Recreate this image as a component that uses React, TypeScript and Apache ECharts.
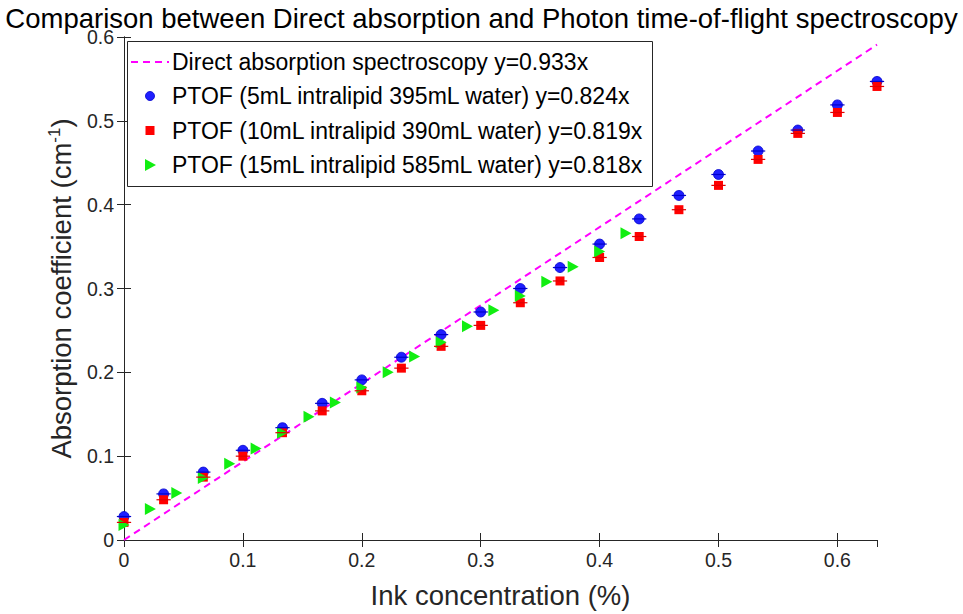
import React, { useEffect, useRef } from "react";
import * as echarts from "echarts";

const titleText = "Comparison between Direct absorption and Photon time-of-flight spectroscopy";
const seriesNames = [
  "Direct absorption spectroscopy y=0.933x",
  "PTOF (5mL intralipid 395mL water) y=0.824x",
  "PTOF (10mL intralipid 390mL water) y=0.819x",
  "PTOF (15mL intralipid 585mL water) y=0.818x",
];
const fitSlope = 0.933;
const fitX = [0, 0.6333];

const inkA = [0, 0.0333, 0.0667, 0.1, 0.1333, 0.1667, 0.2, 0.2333, 0.2667, 0.3, 0.3333, 0.3667, 0.4, 0.4333, 0.4667, 0.5, 0.5333, 0.5667, 0.6, 0.6333];
const mu5 = [0.028, 0.055, 0.081, 0.107, 0.134, 0.163, 0.191, 0.218, 0.245, 0.272, 0.300, 0.325, 0.353, 0.383, 0.411, 0.436, 0.464, 0.489, 0.519, 0.547];
const mu10 = [0.021, 0.048, 0.075, 0.100, 0.128, 0.154, 0.178, 0.205, 0.231, 0.256, 0.283, 0.309, 0.337, 0.362, 0.394, 0.423, 0.454, 0.485, 0.510, 0.541];
const inkB = [0, 0.0222, 0.0444, 0.0667, 0.0889, 0.1111, 0.1333, 0.1556, 0.1778, 0.2, 0.2222, 0.2444, 0.2667, 0.2889, 0.3111, 0.3333, 0.3556, 0.3778, 0.4, 0.4222];
const mu15 = [0.018, 0.037, 0.056, 0.074, 0.091, 0.109, 0.128, 0.147, 0.164, 0.182, 0.200, 0.219, 0.236, 0.255, 0.274, 0.291, 0.308, 0.326, 0.344, 0.366];
const xErr5 = [0.006, 0.006, 0.006, 0.006, 0.006, 0.006, 0.006, 0.006, 0.006, 0.006, 0.006, 0.006, 0.006, 0.006, 0.006, 0.006, 0.006, 0.006, 0.006, 0.006];
const xErr10 = [0.006, 0.006, 0.006, 0.006, 0.006, 0.006, 0.006, 0.006, 0.006, 0.006, 0.006, 0.006, 0.006, 0.006, 0.006, 0.006, 0.006, 0.006, 0.006, 0.006];

const yTicks = [0, 0.1, 0.2, 0.3, 0.4, 0.5, 0.6];
const xTicks = [0, 0.1, 0.2, 0.3, 0.4, 0.5, 0.6];

const axisColor = "#262626";
const font = "'Liberation Sans', Arial, Helvetica, sans-serif";
const colMagenta = "#ff00ff";
const colBlue = "#1f1fff";
const colRed = "#ff0000";
const colGreen = "#11ee11";

function errSeries(xs: number[], ys: number[], errs: number[], color: string) {
  return {
    type: "custom",
    silent: true,
    z: 5,
    data: xs.map((x, i) => [x, ys[i], x - errs[i], x + errs[i]]),
    encode: { x: [0, 2, 3], y: 1 },
    renderItem: (params: any, api: any) => {
      const y = api.value(1);
      const p1 = api.coord([api.value(2), y]);
      const p2 = api.coord([api.value(3), y]);
      return {
        type: "line",
        shape: { x1: p1[0], y1: p1[1], x2: p2[0], y2: p2[1] },
        style: { stroke: color, lineWidth: 1.2 },
      };
    },
  };
}

function legendGraphic() {
  const bx = 127.5, by = 41.5, bw = 525, bh = 145;
  const rows = [62, 96, 130.5, 165];
  const iconX = 150;
  const textX = 172;
  const els: any[] = [
    { type: "rect", shape: { x: bx, y: by, width: bw, height: bh }, style: { fill: "#fff", stroke: axisColor, lineWidth: 1 }, z: 10 },
    { type: "line", shape: { x1: 131, y1: rows[0], x2: 169, y2: rows[0] }, style: { stroke: colMagenta, lineWidth: 2, lineDash: [7, 5] }, z: 11 },
    { type: "circle", shape: { cx: iconX, cy: rows[1], r: 4.5 }, style: { fill: colBlue, stroke: "#0000cc", lineWidth: 0.8 }, z: 11 },
    { type: "rect", shape: { x: iconX - 4.5, y: rows[2] - 4.5, width: 9, height: 9 }, style: { fill: colRed }, z: 11 },
    { type: "polygon", shape: { points: [[iconX - 5, rows[3] - 6], [iconX + 6, rows[3]], [iconX - 5, rows[3] + 6]] }, style: { fill: colGreen }, z: 11 },
  ];
  seriesNames.forEach((n, i) => {
    els.push({
      type: "text",
      x: textX,
      y: rows[i],
      z: 11,
      style: { text: n, fontFamily: font, fontSize: 23, fill: "#000", verticalAlign: "middle", align: "left" },
    });
  });
  return els;
}

export default function App() {
  const ref = useRef<HTMLDivElement>(null);
  useEffect(() => {
    if (!ref.current) return;
    const chart = echarts.init(ref.current, null, { renderer: "svg" });
    const axisCommon = {
      axisLine: { show: true, lineStyle: { color: axisColor, width: 1 } },
      axisTick: { show: true, inside: true, length: 7, lineStyle: { color: axisColor } },
      splitLine: { show: false },
    };
    const fmt = (ticks: number[]) => (v: number) =>
      ticks.some((t) => Math.abs(t - v) < 1e-6) ? String(Math.round(v * 10) / 10) : "";
    chart.setOption({
      animation: false,
      backgroundColor: "#ffffff",
      textStyle: { fontFamily: font },
      title: {
        text: titleText,
        left: "center",
        top: -2,
        textStyle: { fontFamily: font, fontSize: 27.5, fontWeight: "normal", color: "#000", lineHeight: 30 },
      },
      grid: { left: 124, right: 86, top: 37, bottom: 73 },
      graphic: legendGraphic(),
      xAxis: [
        {
          type: "value",
          min: 0,
          max: 0.6333,
          interval: 0.1,
          name: "Ink concentration (%)",
          nameLocation: "middle",
          nameGap: 41,
          nameTextStyle: { fontFamily: font, fontSize: 27.5, color: axisColor },
          axisLabel: { fontFamily: font, fontSize: 19.5, color: axisColor, margin: 10, showMaxLabel: false, formatter: fmt(xTicks) },
          ...axisCommon,
        },
        {
          type: "value",
          position: "top",
          min: 0,
          max: 0.6333,
          interval: 0.1,
          axisLabel: { show: false },
          ...axisCommon,
        },
      ],
      yAxis: [
        {
          type: "value",
          min: 0,
          max: 0.6,
          interval: 0.1,
          name: "{a|Absorption coefficient (cm}{s|-1}{a|)}",
          nameLocation: "middle",
          nameGap: 41,
          nameTextStyle: {
            fontFamily: font,
            color: axisColor,
            rich: {
              a: { fontFamily: font, fontSize: 27.5, color: axisColor, lineHeight: 30, verticalAlign: "bottom" },
              s: { fontFamily: font, fontSize: 17, color: axisColor, lineHeight: 30, verticalAlign: "top" },
            },
          },
          axisLabel: { fontFamily: font, fontSize: 19.5, color: axisColor, margin: 10, formatter: fmt(yTicks) },
          ...axisCommon,
        },
        {
          type: "value",
          position: "right",
          min: 0,
          max: 0.6,
          interval: 0.1,
          axisLabel: { show: false },
          ...axisCommon,
        },
      ],
      series: [
        {
          name: seriesNames[0],
          type: "line",
          data: fitX.map((x) => [x, fitSlope * x]),
          symbol: "none",
          z: 3,
          lineStyle: { color: colMagenta, width: 2, type: [7, 5] },
          itemStyle: { color: colMagenta },
        },
        {
          name: seriesNames[1],
          type: "scatter",
          data: inkA.map((x, i) => [x, mu5[i]]),
          symbol: "circle",
          symbolSize: 10,
          z: 4,
          itemStyle: { color: colBlue, borderColor: "#0000cc", borderWidth: 0.8, opacity: 1 },
        },
        {
          name: seriesNames[2],
          type: "scatter",
          data: inkA.map((x, i) => [x, mu10[i]]),
          symbol: "rect",
          symbolSize: 9,
          z: 4,
          itemStyle: { color: colRed, opacity: 1 },
        },
        {
          name: seriesNames[3],
          type: "scatter",
          data: inkB.map((x, i) => [x, mu15[i]]),
          symbol: "triangle",
          symbolRotate: -90,
          symbolSize: [12, 11],
          z: 4,
          itemStyle: { color: colGreen, opacity: 1 },
        },
        errSeries(inkA, mu5, xErr5, "#0000cc"),
        errSeries(inkA, mu10, xErr10, "#e00000"),
      ],
    });
    return () => chart.dispose();
  }, []);
  return <div ref={ref} style={{ width: 963, height: 614, position: "absolute", left: 0, top: 0 }} />;
}
